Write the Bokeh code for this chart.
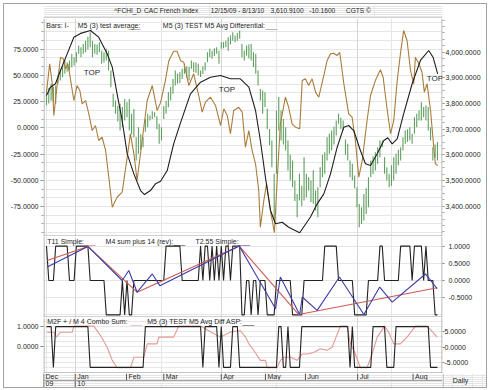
from bokeh.plotting import figure
from bokeh.layouts import column, row
from bokeh.models import Range1d, LinearAxis, FixedTicker, NumeralTickFormatter, Label, Span, Grid
from bokeh.embed import file_html
from bokeh.resources import INLINE
from bokeh.core.properties import value

# ---------------- data (trading-day index 0 = 12/15/09) ----------------
day = list(range(171))
bar_low = [3792, 3800, 3812, 3805, 3799, 3877, 3890, 3903, 3916, 3925,
           3929, 3941, 3948, 3960, 3994, 3980, 3994, 4000, 4010, 4019,
           3980, 3994, 3990, 4000, 3955, 3960, 3968, 3929, 3864, 3786,
           3760, 3730, 3695, 3708, 3734, 3747, 3695, 3680, 3669, 3578,
           3604, 3620, 3630, 3690, 3708, 3734, 3740, 3747, 3700, 3643,
           3656, 3740, 3760, 3785, 3812, 3838, 3870, 3877, 3880, 3896,
           3916, 3900, 3890, 3935, 3922, 3920, 3909, 3903, 3915, 3929,
           3961, 3980, 3974, 3985, 3994, 3955, 4013, 4015, 4019, 4006,
           4030, 4045, 4039, 4045, 4052, 3980, 3968, 3987, 3975, 3968,
           3942, 3916, 3870, 3812, 3760, 3786, 3700, 3637, 3552, 3344,
           3526, 3695, 3656, 3640, 3617, 3539, 3500, 3474, 3420, 3357,
           3422, 3400, 3422, 3435, 3461, 3416, 3410, 3383, 3357, 3474,
           3513, 3526, 3578, 3604, 3617, 3640, 3675, 3721, 3700, 3695,
           3600, 3578, 3513, 3500, 3470, 3396, 3318, 3331, 3344, 3370,
           3396, 3513, 3525, 3539, 3565, 3591, 3630, 3526, 3500, 3474,
           3480, 3500, 3526, 3560, 3578, 3617, 3643, 3650, 3656, 3643,
           3682, 3708, 3734, 3734, 3747, 3734, 3695, 3656, 3578, 3590,
           3578]
bar_high = [3844, 3860, 3877, 3865, 3870, 3909, 3935, 3948, 3968, 3960,
            3968, 3994, 3980, 4000, 4026, 4019, 4032, 4045, 4060, 4078,
            4045, 4032, 4030, 4039, 4006, 4000, 4013, 4006, 3929, 3838,
            3812, 3790, 3799, 3786, 3818, 3805, 3818, 3760, 3779, 3669,
            3708, 3680, 3669, 3740, 3760, 3753, 3770, 3766, 3750, 3721,
            3708, 3790, 3810, 3845, 3864, 3896, 3929, 3916, 3922, 3935,
            3955, 3945, 3942, 3968, 3961, 3960, 3955, 3929, 3945, 3961,
            4000, 4013, 4006, 4015, 4019, 4006, 4039, 4040, 4045, 4058,
            4065, 4078, 4065, 4075, 4084, 4032, 4006, 4026, 4030, 4032,
            4000, 3994, 3930, 3857, 3851, 3844, 3780, 3701, 3656, 3526,
            3773, 3825, 3773, 3740, 3708, 3656, 3600, 3578, 3500, 3448,
            3526, 3480, 3591, 3526, 3513, 3500, 3540, 3461, 3474, 3552,
            3600, 3610, 3669, 3682, 3695, 3710, 3734, 3760, 3745, 3734,
            3660, 3643, 3578, 3565, 3520, 3474, 3409, 3396, 3448, 3470,
            3513, 3578, 3595, 3610, 3630, 3656, 3656, 3591, 3552, 3526,
            3560, 3591, 3604, 3620, 3630, 3669, 3695, 3700, 3708, 3682,
            3747, 3760, 3773, 3805, 3786, 3792, 3786, 3708, 3630, 3640,
            3650]

# M5 (3) test average (black, left scale)
avg_x = [0, 1.7, 3.9, 6.1, 9, 11.9, 14.8, 19.1, 22.7, 26.4, 28.6, 30.7, 32.9, 35.1, 38,
         40.9, 42.6, 45.2, 47.4, 49.6, 52.5, 53.9, 55.3, 58.3, 62.6, 67, 71.3, 75.7, 80,
         84.3, 88, 90.9, 93, 95.2, 97.4, 99.6, 102.5, 105.3, 110.1, 114.8, 117.7, 120.6,
         123.5, 126.4, 129.3, 131.4, 133.6, 136.5, 138.7, 140.9, 143.8, 146.7, 148.4,
         150.3, 152.5, 155.3, 159, 162.6, 166.2, 168.1, 170.1]
avg_y = [30.8, 38.7, 42, 54.6, 70.5, 86.4, 90, 92.8, 86.4, 70.5, 57.8, 32.4, 7, -24.8, -43.9,
         -59.8, -63.6, -59.8, -53.4, -51, -40.7, -28, -15.3, 5, 32.4, 43.5, 48.2, 49.9, 46.7,
         46.7, 38.7, 16.5, -12.1, -47.1, -78.8, -91.5, -90, -94.8, -100, -85, -72.5, -63,
         -43.9, -18.5, 0.6, 2.2, -2.6, -21.6, -34.3, -35.9, -24.8, -12.1, -9.5,
         -15.3, -10.5, 13.3, 42, 64.2, 73.7, 67.3, 51.5]

# M5 (3) TEST M5 Avg Differential (brown, left scale)
diff_x = [0, 1.4, 2.5, 3.2, 4.7, 6.1, 7.3, 8.3, 9.3, 10.4,
          11.9, 13.3, 14.5, 15.5, 17, 18.4, 19.9, 21.3, 22.7, 24.2,
          25.7, 27.1, 28.6, 30.7, 32.9, 35.1, 36.5, 38, 39.4, 41.6,
          43.8, 46, 48.1, 49.6, 51.7, 53.2, 55.3, 56.8, 58.3, 59.7,
          61.9, 64, 66.2, 67.7, 69.1, 71.3, 73.5, 75.7, 77.1, 78.6,
          80, 81.4, 83.6, 85.1, 86.5, 88, 89.4, 90.9, 92.3, 93,
          94.5, 95.7, 97.4, 99.1, 100.3, 101.7, 103.9, 105.3, 106.8, 108.3,
          110.1, 111.2, 112.6, 114, 115.5, 117, 118.4, 120.6, 122, 123.5,
          124.9, 126.4, 127.5, 129.3, 131.4, 132.9, 134.3, 135.8, 137.3, 139.4,
          140.9, 143, 145.2, 146.4, 147.8, 149.6, 151, 152.5, 153.9, 155.3,
          156.8, 158.3, 159.7, 160.4, 161.9, 163.3, 164.3, 165.5, 167, 168.4,
          169.1, 170.1]
diff_y = [34, 61, 42, 11.7, 42, 67.3, 65.8, 56.2, 61, 46.7,
          26, 40.3, 35.6, 22.9, 26, 13.3, -2.6, 2.2, -12.1, -9,
          -21.6, -47.1, -75.7, -66.2, -61.4, -28, -5.7, -24.8, -50.2, -12.1,
          26, 40.3, 16.5, 24, 45, 64, 73, 73, 64, 62.5,
          40.3, 51.5, 30.8, 14.9, 24.4, 29.2, 21.3, 2.2, 18.1, 11.7,
          -5.7, 16.5, 19.6, 14.9, -18.5, -2.6, -21.6, -34.3, -59.8, -94.8,
          -69.3, -53.4, -78.8, -100, -50.2, 3.8, 29.2, 19.6, 3.8, 0.6,
          -1, 45, 46.7, 40.3, 46.7, 34, 29.2, 50, 64, 70.5,
          71.1, 69, 72, 42, 13.3, 10.1, -12.1, -47.1, -31.2, 7,
          30.8, 45, 55.3, 48.2, 22.9, -5.7, 7, 45, 70.5, 92.8,
          83.2, 54.6, 42, 67.3, 61, 53, 34, 42, 16.5, -18.5,
          -34.3, -35.9]

# middle panel
t11_x = [0.3, 18, 39.4, 83.8, 109.7, 169.9]
t11_y = [0.58, 0.99, -0.34, 1.0, -0.99, -0.21]
t255_x = [0.3, 18, 32.9, 35.8, 39.4, 46, 49.3, 83.8, 99.6, 101.7, 110.1, 111.2, 117.7,
          127.4, 138, 144.9, 150.3, 164.8, 169.9]
t255_y = [0.39, 0.99, 0, 0.29, -0.34, 0.19, -0.15, 1.0, -0.82, 0.1, -0.99, -0.48, -0.87,
          0.1, -0.99, -0.19, -0.63, 0.19, -0.24]
m4_rev = [1, 0, 0, 0, 1, 1, 1, 1, 1, 1,
          0, 0, 0, 1, 1, 1, 1, 1, 1, 0,
          0, 0, 0, 0, 0, 0, -1, -1, -1, -1,
          -1, -1, -1, 0, -1, 0, -1, -1, 0, 0,
          0, 0, 0, 0, 0, 0, 0, 0, 0, 0,
          0, 0, 1, 1, 1, 1, 1, 1, 1, 0,
          0, 0, 0, 0, 0, 0, 0, 1, 0, 1,
          1, 0, 1, 0, 1, 0, 1, 0, 1, 1,
          0, 1, 1, 1, 1, -1, -1, 0, 0, -1,
          0, 0, -1, 0, 0, 0, -1, -1, -1, -1,
          0, 0, 0, 0, 0, 0, 0, -1, -1, -1,
          -1, -1, 0, 0, 0, 0, 0, 0, 0, 0,
          0, 1, 1, 1, 1, 1, 1, 0, 0, 0,
          0, 0, 0, 0, -1, -1, -1, -1, -1, -1,
          0, 0, 0, 0, 0, 1, 1, 0, 0, 0,
          0, 0, 0, 0, 1, 1, 1, 1, 1, 0,
          1, 1, 1, 1, 0, 1, 0, 0, 0, -1,
          -1]

# bottom panel
combo_x = [0.3, 3.2, 4.3, 6.1, 11.2, 11.9, 20.6, 23.5, 26.4, 28.6,
           30.7, 36.5, 38, 42.3, 43.8, 48.1, 48.8, 55.3, 57.5, 67,
           72.6, 75.7, 80, 84.3, 86.5, 88, 90.1, 93, 95.2, 96,
           100.3, 101.7, 103.2, 106.1, 109, 111.2, 113.3, 116.2, 119.1, 122,
           124.2, 127.8, 130.7, 132.2, 134.3, 136.5, 139.4, 141.6, 143.8, 147,
           148.8, 151, 153.9, 156.8, 160.4, 165.5, 169.9]
combo_y = [4.9, 4.9, 3.3, 4.9, 4.9, 6.9, 6.9, 3.8, 0, -4.3,
           -6.7, -6.7, -3.3, -3.3, 1.1, 1.1, 3.3, 3.3, 6.9, 6.9,
           4.5, 3.3, 5, 5.4, 3.3, 1.1, -1, -4.3, -4.3, -6.7,
           -6.7, -4.3, -3.3, -3.3, -4.3, -2.2, -2.2, -1.7, -0.5, -1,
           0, 6.9, 6.9, 1.1, -2.2, -6.7, -6.7, -2.2, 3.3, 6.9,
           4.9, 1.1, 1.1, 3.3, 6.9, 6.9, 3.3]
diff_asp = [1, 1, 1, -1, 1, 1, 1, 1, 1, 1,
            1, 1, 1, 1, 1, 1, 1, 1, 1, -1,
            -1, -1, -1, -1, -1, -1, -1, -1, -1, -1,
            -1, -1, -1, -1, -1, -1, -1, -1, -1, -1,
            -1, -1, -1, 1, 1, 1, 1, 1, 1, 1,
            1, 1, 1, 1, 1, 1, 1, 1, 1, 1,
            1, 1, 1, 1, 1, 1, 1, 1, -1, 1,
            1, 1, 1, 1, 1, -1, 1, -1, -1, -1,
            -1, 1, 1, 1, -1, -1, -1, -1, -1, -1,
            -1, -1, -1, -1, -1, -1, -1, -1, -1, -1,
            -1, 1, 1, -1, -1, 1, -1, -1, -1, -1,
            -1, 1, 1, 1, 1, 1, 1, 1, 1, 1,
            1, 1, 1, 1, 1, 1, 1, 1, 1, 1,
            1, 1, -1, 1, -1, -1, -1, -1, -1, -1,
            -1, -1, 1, 1, 1, 1, 1, 1, -1, -1,
            -1, -1, 1, 1, 1, 1, 1, 1, 1, 1,
            1, 1, 1, 1, 1, 1, 1, -1, -1, -1,
            -1]

month_labels = ["Dec", "Jan", "Feb", "Mar", "Apr", "May", "Jun", "Jul", "Aug"]
month_pos = [-1.3, 12.5, 34.8, 51, 76, 95.2, 112.6, 135.3, 159.4]
year_labels = ["09", "10"]
year_pos = [-1.3, 12.5]
quarter_pos = [12.5, 76, 135.3]

left_ticks = [-75, -50, -25, 0, 25, 50, 75]
price_ticks = [3400, 3500, 3600, 3700, 3800, 3900, 4000]
mid_ticks = [-0.5, 0, 0.5, 1.0]
bot_left_ticks = [0, 1]
bot_right_ticks = [-5, 0, 5]

title_parts = ["^FCHI_D", "CAC French Index", "12/15/09 - 8/13/10", "3,610.9100", "-10.1600",
               "CGTS \u00a9"]

# ---------------- style ----------------
FONT = "Liberation Sans"
TXT = "#262626"
FRAME = "#a2a2a2"
GREEN = "#5f9f5f"
BROWN = "#a97c3c"
LB, FW, RB = 39, 399, 44
W = LB + FW + RB
X0, X1 = -1.3, 172.2
xr = Range1d(X0, X1)
HALF_X = 0.5 * (X1 - X0) / FW


def panel(h, y0, y1, width=W, rb=RB, sep=True):
    p = figure(width=width, height=h, x_range=xr, y_range=Range1d(y0, y1),
               output_backend="svg", toolbar_location=None, title=None,
               x_axis_location=None, y_axis_location=None,
               min_border_left=LB, min_border_right=rb, min_border_top=0, min_border_bottom=0,
               outline_line_color=None, background_fill_color="white", border_fill_color="white")
    p.add_layout(Span(location=X0 + HALF_X, dimension="height", line_color=FRAME, line_width=1))
    if rb > 0:
        p.add_layout(Span(location=X1 - HALF_X, dimension="height", line_color=FRAME, line_width=1))
    if sep:
        p.add_layout(Span(location=y0 + 0.5 * (y1 - y0) / h, dimension="width",
                          line_color=FRAME, line_width=1))
    return p


def style_axis(ax, standoff=2, tick_out=3):
    ax.axis_line_color = None
    ax.major_tick_line_color = "#808080"
    ax.minor_tick_line_color = "#a0a0a0"
    ax.major_tick_in = 0
    ax.major_tick_out = tick_out
    ax.minor_tick_in = 0
    ax.minor_tick_out = 2
    ax.major_label_text_font = FONT
    ax.major_label_text_font_size = "7px"
    ax.major_label_text_color = TXT
    ax.major_label_standoff = standoff
    return ax


def legend(p, x, y, text, color=TXT, **kw):
    p.add_layout(Label(x=x, y=y, text=text, text_font=FONT, text_font_size="7px",
                       text_color=color, text_baseline="middle", **kw))


def plain(w, h):
    return figure(width=w, height=h, x_range=Range1d(0, w), y_range=Range1d(0, h),
                  output_backend="svg", toolbar_location=None, title=None,
                  x_axis_location=None, y_axis_location=None, min_border=0,
                  outline_line_color=None)


# ---------------- title bar ----------------
tf = plain(W, 14)
tf.add_layout(Span(location=0.5, dimension="width", line_color=FRAME, line_width=1))
tf.text(x=[85.5, 121.5, 202, 274.3, 321, 365.3], y=[7.8] * 6, text=title_parts,
        text_font=value(FONT), text_font_size="6.6px", text_color=TXT, text_baseline="middle")

# ---------------- main panel ----------------
main = panel(218, -103.6, 104.2)
main.extra_y_ranges = {"price": Range1d(3282.0, 4131.2)}
minor_left = [-100 + k * 25 / 3 for k in range(25)]
main.add_layout(Grid(dimension=1, ticker=FixedTicker(ticks=minor_left), grid_line_color="#e6e6e6"))
main.add_layout(Grid(dimension=0, ticker=FixedTicker(ticks=quarter_pos), grid_line_color="#d6d6d6"))
la = LinearAxis(ticker=FixedTicker(ticks=left_ticks, minor_ticks=minor_left),
                formatter=NumeralTickFormatter(format="0.0000"))
main.add_layout(style_axis(la), "left")
ra = LinearAxis(y_range_name="price",
                ticker=FixedTicker(ticks=price_ticks, minor_ticks=[3300 + k * 25 for k in range(34)]),
                formatter=NumeralTickFormatter(format="0,0.0000"))
main.add_layout(style_axis(ra, standoff=1, tick_out=2), "right")

main.segment(x0=day, y0=bar_low, x1=day, y1=bar_high, y_range_name="price",
             line_color=GREEN, line_width=1.1)
main.line(diff_x, diff_y, line_color=BROWN, line_width=1.1)
main.line(avg_x, avg_y, line_color="#1e1e1e", line_width=1.1)

legend(main, -0.1, 98, "Bars: I-")
legend(main, 13.6, 98, "M5 (3) test average:")
legend(main, 35.7, 98, "___", color="#777777")
legend(main, 50.6, 98, "M5 (3) TEST M5 Avg Differential:")
legend(main, 95.2, 98, "___", color="#777777")
for tx, ty in [(19.8, 53), (78.5, 36.2), (168.9, 47)]:
    main.add_layout(Label(x=tx, y=ty, text="TOP", text_font=FONT, text_font_size="8px",
                          text_color=TXT, text_align="center", text_baseline="middle"))

# ---------------- middle panel ----------------
mid = panel(81, -1.076, 1.279)
mid.add_layout(Grid(dimension=0, ticker=FixedTicker(ticks=quarter_pos), grid_line_color="#d6d6d6"))
ma = LinearAxis(ticker=FixedTicker(ticks=mid_ticks), formatter=NumeralTickFormatter(format="0.0000"))
mid.add_layout(style_axis(ma, standoff=4, tick_out=2), "right")
mid.line(day, m4_rev, line_color="#222222", line_width=1.1)
mid.line(t11_x, t11_y, line_color="#cc5a55", line_width=1.1)
mid.line(t255_x, t255_y, line_color="#3b3ba6", line_width=1.1)
legend(mid, 0.3, 1.14, "T11 Simple:")
legend(mid, 16.2, 1.14, "___", color="#cc5a55")
legend(mid, 25.7, 1.14, "M4 sum plus 14 (rev):")
legend(mid, 55.2, 1.14, "___", color="#222222")
legend(mid, 64.8, 1.14, "T2.55 Simple:")
legend(mid, 83.5, 1.14, "___", color="#3b3ba6")

# ---------------- bottom panel ----------------
bot = panel(56, -1.299, 1.446)
bot.extra_y_ranges = {"combo": Range1d(-8.59, 9.71)}
bot.add_layout(Grid(dimension=1, ticker=FixedTicker(ticks=[-1.25 + k * 0.25 for k in range(12)]),
                    grid_line_color="#e8e8e8"))
bot.add_layout(Grid(dimension=0, ticker=FixedTicker(ticks=quarter_pos), grid_line_color="#d6d6d6"))
bl = LinearAxis(ticker=FixedTicker(ticks=bot_left_ticks), formatter=NumeralTickFormatter(format="0.0000"))
bot.add_layout(style_axis(bl), "left")
br = LinearAxis(y_range_name="combo", ticker=FixedTicker(ticks=bot_right_ticks),
                formatter=NumeralTickFormatter(format="0.0000"))
bot.add_layout(style_axis(br, standoff=0, tick_out=2), "right")
bot.line(combo_x, combo_y, y_range_name="combo", line_color="#e39a96", line_width=1.1)
bot.line(day, diff_asp, line_color="#222222", line_width=1.1)
legend(bot, 0.3, 1.26, "M2F + / M 4 Combo Sum:")
legend(bot, 36.5, 1.26, "___", color="#e39a96")
legend(bot, 43.8, 1.26, "M5 (3) TEST M5 Avg Diff ASP:")
legend(bot, 85.2, 1.26, "___", color="#222222")

# ---------------- date strip ----------------
datef = panel(14, 0, 14, width=LB + FW, rb=0, sep=False)
datef.add_layout(Span(location=7, dimension="width", line_color=FRAME, line_width=1))
datef.segment(x0=month_pos, y0=[7] * len(month_pos), x1=month_pos, y1=[14] * len(month_pos),
              line_color="#555555", line_width=1)
datef.segment(x0=year_pos, y0=[0] * len(year_pos), x1=year_pos, y1=[7] * len(year_pos),
              line_color="#555555", line_width=1)
datef.text(x=month_pos, y=[10.7] * len(month_pos), text=month_labels, x_offset=2,
           text_font=value(FONT), text_font_size="7px", text_color=TXT, text_baseline="middle")
datef.text(x=year_pos, y=[3.6] * len(year_pos), text=year_labels, x_offset=2,
           text_font=value(FONT), text_font_size="7px", text_color=TXT, text_baseline="middle")
dailyf = plain(RB, 14)
dailyf.add_layout(Span(location=0.5, dimension="height", line_color=FRAME, line_width=1))
dailyf.text(x=[18], y=[7.3], text=["Daily"], text_font=value(FONT), text_font_size="7px",
            text_color=TXT, text_align="center", text_baseline="middle")
date_row = row(datef, dailyf, spacing=0)

layout = column(tf, main, mid, bot, date_row, spacing=0)
layout.styles = {"margin-left": "4px", "margin-top": "4px", "outline": f"1px solid {FRAME}"}

open("out.html", "w").write(file_html(layout, INLINE))
